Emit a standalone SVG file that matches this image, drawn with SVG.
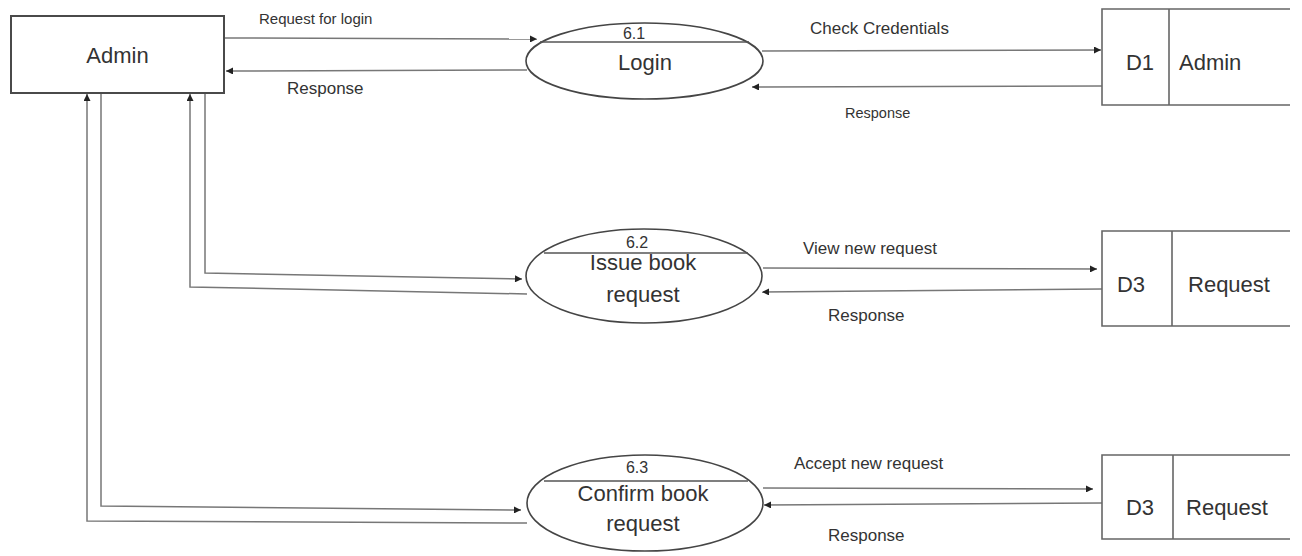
<svg xmlns="http://www.w3.org/2000/svg" width="1302" height="556" viewBox="0 0 1302 556">
<style>
  text { font-family: "Liberation Sans", Arial, sans-serif; fill: #333; }
  .big { font-size: 22px; }
  .lbl { font-size: 17px; }
  .num { font-size: 16px; }
  .ent { fill: #fff; stroke: #4a4a4a; stroke-width: 2; }
  .proc { fill: #fff; stroke: #454545; stroke-width: 1.6; }
  .div { stroke: #555; stroke-width: 1.4; fill: none; }
  .store { stroke: #666; stroke-width: 1.6; fill: none; }
  .flow { stroke: #777; stroke-width: 1.5; fill: none; marker-end: url(#arr); }
  .plain { stroke: #777; stroke-width: 1.5; fill: none; }
</style>
<defs>
  <marker id="arr" viewBox="0 0 10 10" refX="10" refY="5" markerWidth="8" markerHeight="7" markerUnits="userSpaceOnUse" orient="auto">
    <path d="M0,0 L10,5 L0,10 Z" fill="#222"/>
  </marker>
</defs>
<rect width="1302" height="556" fill="#fff"/>

<g id="connectors">
  <path class="flow" d="M225,38 L537,39"/>
  <path class="flow" d="M527,70 L226,71"/>
  <path class="flow" d="M762,51 L1101,50"/>
  <path class="flow" d="M1102,86 L752,87"/>
  <path class="flow" d="M205,93 L205,273 L522,279"/>
  <path class="flow" d="M527,294 L190,287 L190,94"/>
  <path class="flow" d="M763,268 L1097,269"/>
  <path class="flow" d="M1102,289 L762,292"/>
  <path class="flow" d="M101,93 L101,506 L521,510"/>
  <path class="flow" d="M527,523 L87,521 L87,94"/>
  <path class="flow" d="M763,488 L1093,489"/>
  <path class="flow" d="M1102,503 L764,505"/>
  <text class="lbl" x="259" y="24" style="font-size:15px">Request for login</text>
  <text class="lbl" x="287" y="94">Response</text>
  <text class="lbl" x="810" y="34">Check Credentials</text>
  <text class="lbl" x="845" y="118" style="font-size:14.5px">Response</text>
  <text class="lbl" x="803" y="254">View new request</text>
  <text class="lbl" x="828" y="321">Response</text>
  <text class="lbl" x="794" y="469">Accept new request</text>
  <text class="lbl" x="828" y="541">Response</text>
</g>

<g id="admin">
  <rect class="ent" x="11" y="16" width="213" height="77"/>
  <text class="big" x="117.5" y="63" text-anchor="middle">Admin</text>
</g>

<g id="p61">
  <ellipse class="proc" cx="644.5" cy="61" rx="118.5" ry="38"/>
  <path class="div" d="M540,42 L749,42"/>
  <text class="num" x="634" y="39" text-anchor="middle">6.1</text>
  <text class="big" x="645" y="70" text-anchor="middle">Login</text>
</g>

<g id="p62">
  <ellipse class="proc" cx="644" cy="276" rx="118" ry="47"/>
  <path class="div" d="M544,253 L748,253"/>
  <text class="num" x="637" y="248" text-anchor="middle">6.2</text>
  <text class="big" x="643" y="270" text-anchor="middle">Issue book</text>
  <text class="big" x="643" y="302" text-anchor="middle">request</text>
</g>

<g id="p63">
  <ellipse class="proc" cx="645" cy="503" rx="118" ry="48"/>
  <path class="div" d="M544,481 L748,481"/>
  <text class="num" x="637" y="473" text-anchor="middle">6.3</text>
  <text class="big" x="643" y="501" text-anchor="middle">Confirm book</text>
  <text class="big" x="643" y="531" text-anchor="middle">request</text>
</g>

<g id="d1">
  <path class="store" d="M1290,9 L1102,9 L1102,105 L1290,105 M1169,9 L1169,105"/>
  <text class="big" x="1140" y="70" text-anchor="middle">D1</text>
  <text class="big" x="1179" y="70">Admin</text>
</g>

<g id="d3a">
  <path class="store" d="M1290,231 L1102,231 L1102,326 L1290,326 M1172,231 L1172,326"/>
  <text class="big" x="1131" y="292" text-anchor="middle">D3</text>
  <text class="big" x="1229" y="292" text-anchor="middle">Request</text>
</g>

<g id="d3b">
  <path class="store" d="M1290,455 L1102,455 L1102,539 L1290,539 M1173,455 L1173,539"/>
  <text class="big" x="1140" y="515" text-anchor="middle">D3</text>
  <text class="big" x="1227" y="515" text-anchor="middle">Request</text>
</g>
</svg>
